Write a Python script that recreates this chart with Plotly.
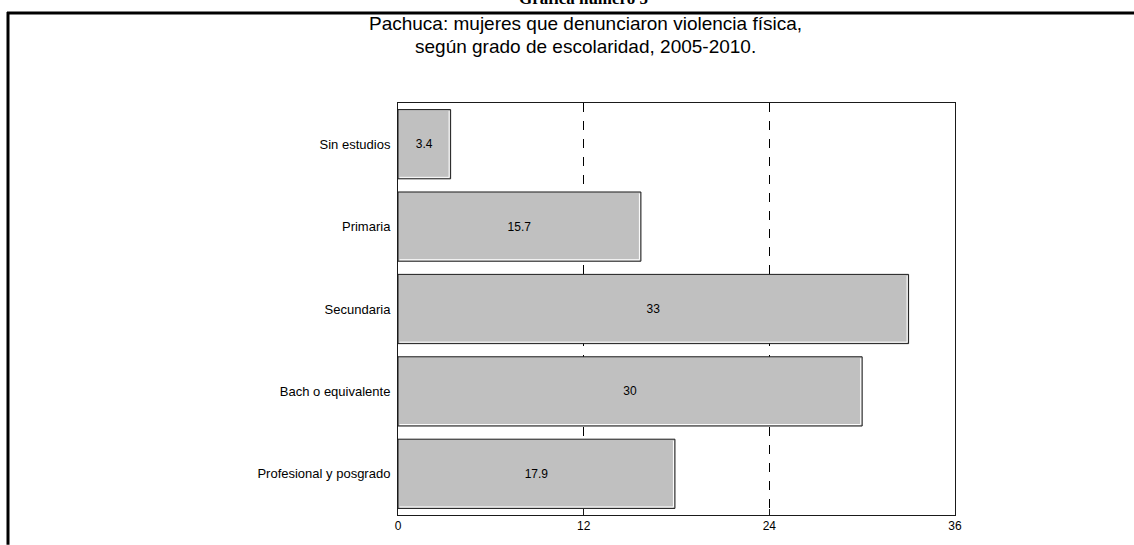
import plotly.graph_objects as go

categories = ["Sin estudios", "Primaria", "Secundaria", "Bach o equivalente", "Profesional y posgrado"]
values = [3.4, 15.7, 33, 30, 17.9]
tick_values = [0, 12, 24, 36]
tick_labels = ["0", "12", "24", "36"]

W, H = 1134, 545
L, R, T, B = 398, 955, 103, 520
SANS = "Liberation Sans, Arial"
BARGAP = 0.16

fig = go.Figure(go.Bar(
    x=values, y=categories, orientation="h",
    marker=dict(color="#c0c0c0", line=dict(color="#1a1a1a", width=1)),
    text=[f"{v:g}" for v in values], textposition="inside", insidetextanchor="middle",
    textfont=dict(family=SANS, size=12, color="black"),
    cliponaxis=False, hoverinfo="skip",
))

def px_x(X):
    return (X - L) / (R - L)

def px_y(Y):
    return (B - Y) / (B - T)

# light bevel along the right and bottom edge of each bar
half = (1 - BARGAP) / 2
unit_x = 36 / (R - L)
unit_y = len(categories) / (B - T)
bevel = []
for i, v in enumerate(values):
    bevel.append(dict(type="line", xref="x", yref="y",
                      x0=v - 1.5 * unit_x, x1=v - 1.5 * unit_x,
                      y0=i - half + 1.5 * unit_y, y1=i + half - 1.5 * unit_y,
                      line=dict(color="white", width=1)))
    bevel.append(dict(type="line", xref="x", yref="y",
                      x0=1.5 * unit_x, x1=v - 1.5 * unit_x,
                      y0=i + half - 1.5 * unit_y, y1=i + half - 1.5 * unit_y,
                      line=dict(color="white", width=1)))

frame = [
    dict(type="line", xref="paper", yref="paper",
         x0=px_x(7), x1=px_x(W + 5), y0=px_y(12), y1=px_y(12),
         line=dict(color="black", width=3)),
    dict(type="line", xref="paper", yref="paper",
         x0=px_x(8), x1=px_x(8), y0=px_y(11), y1=px_y(H + 5),
         line=dict(color="black", width=3)),
]

fig.update_layout(
    width=W, height=H,
    margin=dict(l=L, r=W - R, t=T, b=H - B),
    paper_bgcolor="white", plot_bgcolor="white",
    bargap=BARGAP, showlegend=False,
    font=dict(family=SANS, size=12, color="black"),
    xaxis=dict(range=[0, 36], tickvals=tick_values, ticktext=tick_labels,
               showgrid=True, gridcolor="black", gridwidth=1, griddash="dash",
               showline=True, linecolor="#1a1a1a", linewidth=1, mirror=True,
               ticks="inside", ticklen=6, tickcolor="#1a1a1a",
               tickfont=dict(size=12), zeroline=False, fixedrange=True),
    yaxis=dict(autorange="reversed", showgrid=False, showline=True,
               linecolor="#1a1a1a", linewidth=1, mirror=True, ticks="",
               ticklabelstandoff=4, tickfont=dict(size=13), fixedrange=True),
    shapes=bevel + frame,
    annotations=[
        dict(text="<b>Gráfica número 5</b>", xref="paper", yref="paper",
             x=px_x(583), y=px_y(9), xanchor="center", yanchor="bottom",
             showarrow=False,
             font=dict(family="Liberation Serif, Times New Roman", size=17, color="black")),
        dict(text="Pachuca: mujeres que denunciaron violencia física,",
             xref="paper", yref="paper", x=px_x(585), y=px_y(23),
             xanchor="center", yanchor="middle", showarrow=False,
             font=dict(family=SANS, size=19, color="black")),
        dict(text="según grado de escolaridad, 2005-2010.",
             xref="paper", yref="paper", x=px_x(585), y=px_y(46),
             xanchor="center", yanchor="middle", showarrow=False,
             font=dict(family=SANS, size=19, color="black")),
    ],
)

fig.write_html("out.html")
